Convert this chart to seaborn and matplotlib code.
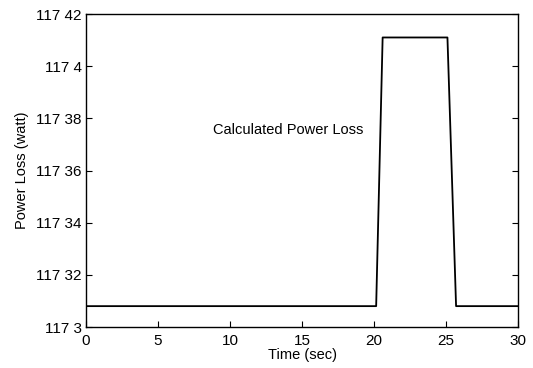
import matplotlib
matplotlib.use("Agg")
import matplotlib.pyplot as plt
import seaborn as sns
import pandas as pd

time_s = [0.0, 20.15, 20.6, 25.1, 25.7, 30.0]
power_w = [117.308, 117.308, 117.411, 117.411, 117.308, 117.308]
x_ticks = [0, 5, 10, 15, 20, 25, 30]
y_ticks = [117.30, 117.32, 117.34, 117.36, 117.38, 117.40, 117.42]
y_tick_labels = ["117 3", "117 32", "117 34", "117 36", "117 38", "117 4", "117 42"]

sns.set_theme(style="white")
plt.rcParams['font.family'] = ['Liberation Sans', 'DejaVu Sans']

df = pd.DataFrame({"t": time_s, "p": power_w})

fig = plt.figure(figsize=(5.33, 3.68), dpi=100)
ax = fig.add_axes([86/533, 1-327/368, (518-86)/533, (327-14)/368])
sns.lineplot(data=df, x="t", y="p", ax=ax, color="black", linewidth=1.3, sort=False)

ax.set_xlim(0, 30)
ax.set_ylim(117.30, 117.42)
ax.set_xticks(x_ticks)
ax.set_xticklabels([str(v) for v in x_ticks])
ax.set_yticks(y_ticks)
ax.set_yticklabels(y_tick_labels)
ax.tick_params(direction="in", length=4, width=0.8, colors="black", labelsize=11,
               top=False, right=True, bottom=True, left=True, pad=3)
ax.tick_params(axis="x", pad=5)
for s in ax.spines.values():
    s.set_color("black")
    s.set_linewidth(1.0)
ax.set_xlabel("Time (sec)", fontsize=10.5, color="black", labelpad=0)
ax.set_ylabel("Power Loss (watt)", fontsize=10.5, color="black", labelpad=5)
ax.text(8.8, 117.3755, "Calculated Power Loss", fontsize=10.5, color="black",
        va="center", ha="left")

fig.savefig("out.png", dpi=100)
